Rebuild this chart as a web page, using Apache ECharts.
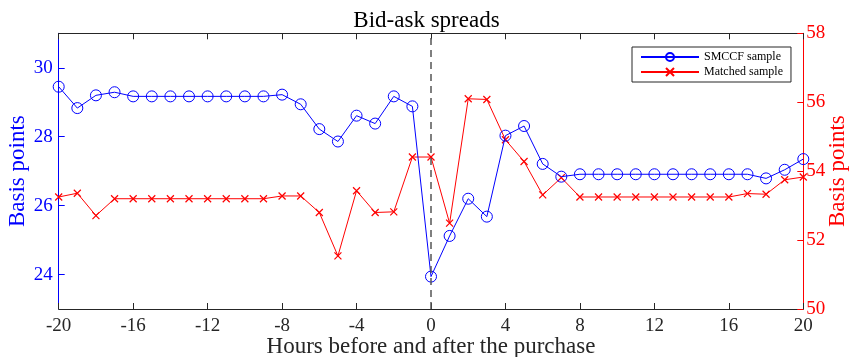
<!DOCTYPE html>
<html>
<head>
<meta charset="utf-8">
<script src="https://cdn.jsdelivr.net/npm/echarts@6/dist/echarts.min.js"></script>
<style>
html,body{margin:0;padding:0;background:#fff;}
#chart{width:853px;height:357px;}
</style>
</head>
<body>
<div id="chart"></div>
<script>
var hours = [-20,-19,-18,-17,-16,-15,-14,-13,-12,-11,-10,-9,-8,-7,-6,-5,-4,-3,-2,-1,0,1,2,3,4,5,6,7,8,9,10,11,12,13,14,15,16,17,18,19,20];
var smccf = [29.45,28.83,29.20,29.29,29.17,29.17,29.17,29.17,29.17,29.17,29.17,29.17,29.22,28.94,28.22,27.86,28.61,28.38,29.17,28.88,23.94,25.12,26.20,25.68,28.03,28.31,27.21,26.84,26.91,26.91,26.91,26.91,26.91,26.91,26.91,26.91,26.91,26.91,26.79,27.04,27.35];
var matched = [53.25,53.36,52.71,53.20,53.20,53.20,53.20,53.20,53.20,53.20,53.20,53.20,53.28,53.28,52.80,51.54,53.43,52.80,52.82,54.41,54.41,52.49,56.10,56.08,54.91,54.28,53.31,53.81,53.25,53.25,53.25,53.25,53.25,53.25,53.25,53.25,53.25,53.35,53.33,53.75,53.83];
var xTicks = [-20,-16,-12,-8,-4,0,4,8,12,16,20];
var leftTicks = [24,26,28,30];
var rightTicks = [50,52,54,56,58];

var FONT = 'Liberation Serif';
var DARK = '#262626';
var BLUE = '#0000ff';
var RED = '#ff0000';

function pairs(xs, ys){ return xs.map(function(x,i){ return [x, ys[i]]; }); }

var chart = echarts.init(document.getElementById('chart'), null, {renderer:'canvas'});
chart.setOption({
  animation:false,
  backgroundColor:'#fff',
  title:{text:'Bid-ask spreads', left:'center', top:4, textStyle:{fontFamily:FONT, fontSize:23, fontWeight:'normal', color:'#000'}},
  grid:{left:58.7, right:49.7, top:33.3, bottom:48, containLabel:false, outerBoundsMode:'none'},
  legend:{
    orient:'vertical', left:632, top:47, width:156,
    borderColor:DARK, borderWidth:1, padding:[4,8,4,8], itemGap:3,
    itemWidth:58, itemHeight:10, backgroundColor:'#fff',
    textStyle:{fontFamily:FONT, fontSize:12, color:'#000'},
    data:['SMCCF sample','Matched sample']
  },
  xAxis:[{
    type:'value', min:-20, max:20, interval:4,
    name:'Hours before and after the purchase', nameLocation:'middle', nameGap:26, nameMoveOverlap:false,
    nameTextStyle:{fontFamily:FONT, fontSize:23, color:DARK},
    axisLine:{onZero:false, lineStyle:{color:DARK, width:1}},
    axisTick:{inside:true, length:6, lineStyle:{color:DARK}},
    axisLabel:{fontFamily:FONT, fontSize:19, color:DARK, margin:8,
      formatter:function(v){ return xTicks.indexOf(v)>=0 ? String(v) : ''; }},
    splitLine:{show:false}
  },{
    type:'value', position:'top', min:-20, max:20, interval:4,
    axisLine:{onZero:false, lineStyle:{color:DARK, width:1}},
    axisTick:{inside:true, length:6, lineStyle:{color:DARK}},
    axisLabel:{show:false}, splitLine:{show:false}
  }],
  yAxis:[{
    type:'value', min:23, max:31, interval:1, position:'left',
    name:'Basis points', nameLocation:'middle', nameGap:29, nameRotate:90, nameMoveOverlap:false,
    nameTextStyle:{fontFamily:FONT, fontSize:23, color:BLUE},
    axisLine:{show:true, onZero:false, lineStyle:{color:BLUE, width:1}},
    axisTick:{inside:true, length:6, lineStyle:{color:BLUE}, customValues:leftTicks},
    axisLabel:{fontFamily:FONT, fontSize:19, color:BLUE, margin:6, customValues:leftTicks},
    splitLine:{show:false}
  },{
    type:'value', min:50, max:58, interval:2, position:'right',
    name:'Basis points', nameLocation:'middle', nameGap:23, nameRotate:90, nameMoveOverlap:false,
    nameTextStyle:{fontFamily:FONT, fontSize:23, color:RED},
    axisLine:{show:true, onZero:false, lineStyle:{color:RED, width:1}},
    axisTick:{inside:true, length:6, lineStyle:{color:RED}, customValues:rightTicks},
    axisLabel:{fontFamily:FONT, fontSize:19, color:RED, margin:3, customValues:rightTicks},
    splitLine:{show:false}
  }],
  series:[{
    name:'SMCCF sample', type:'line', xAxisIndex:0, yAxisIndex:0,
    data:pairs(hours, smccf),
    symbol:'circle', symbolSize:11, showAllSymbol:true,
    lineStyle:{color:BLUE, width:1},
    itemStyle:{color:'rgba(255,255,255,0)', borderColor:BLUE, borderWidth:1},
    markLine:{silent:true, symbol:'none', label:{show:false},
      lineStyle:{color:'#555', type:[7,5], width:1.5},
      data:[{xAxis:0}]},
    z:3
  },{
    name:'Matched sample', type:'line', xAxisIndex:0, yAxisIndex:1,
    data:pairs(hours, matched),
    symbol:'path://M0,0L10,10M10,0L0,10', symbolSize:7, showAllSymbol:true,
    lineStyle:{color:RED, width:1},
    itemStyle:{color:RED, borderColor:RED, borderWidth:1.2},
    z:2
  }]
});
</script>
</body>
</html>
